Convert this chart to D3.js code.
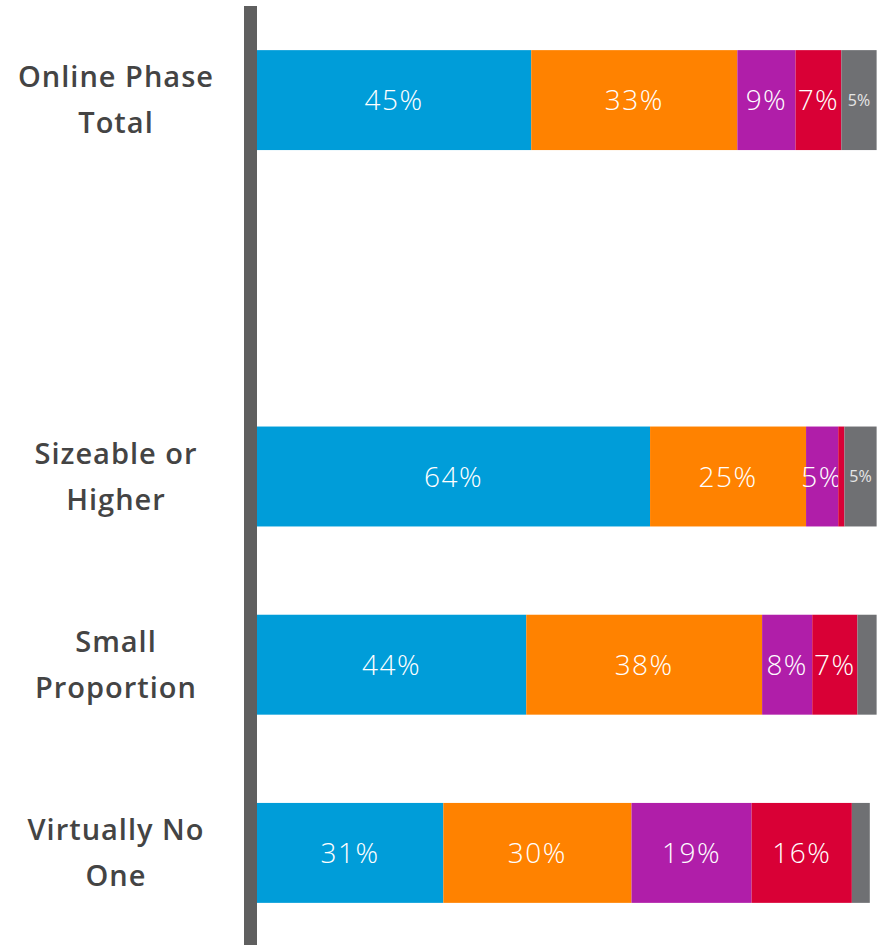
<!DOCTYPE html>
<html>
<head>
<meta charset="utf-8">
<script src="https://cdn.jsdelivr.net/npm/d3@7"></script>
<style>
  html, body { margin: 0; padding: 0; background: #fff; }
  svg { display: block; }
</style>
</head>
<body>
<svg id="chart" width="883" height="945"></svg>
<script>
// Categories (a blank spacer slot sits after the first row)
const categories = ["Online Phase Total", "__gap__", "Sizeable or Higher", "Small Proportion", "Virtually No One"];
const categoryLines = {
  "Online Phase Total": ["Online Phase", "Total"],
  "Sizeable or Higher": ["Sizeable or", "Higher"],
  "Small Proportion": ["Small", "Proportion"],
  "Virtually No One": ["Virtually No", "One"]
};
const rows = ["Online Phase Total", "Sizeable or Higher", "Small Proportion", "Virtually No One"];
const seriesKeys = ["s1", "s2", "s3", "s4", "s5"];
const seriesColors = ["#009DD9", "#FF8200", "#B01EA9", "#D90036", "#6F7073"];

// Segment widths (percent)
const s1 = [44.3, 63.5, 43.5, 30.1];
const s2 = [33.3, 25.2, 38.1, 30.4];
const s3 = [9.4, 5.2, 8.1, 19.4];
const s4 = [7.4, 1.0, 7.3, 16.2];
const s5 = [5.7, 5.2, 3.1, 2.9];

// Printed labels
const l1 = ["45%", "64%", "44%", "31%"];
const l2 = ["33%", "25%", "38%", "30%"];
const l3 = ["9%", "5%", "8%", "19%"];
const l4 = ["7%", "", "7%", "16%"];
const l5 = ["5%", "5%", "", ""];

const valueArrays = [s1, s2, s3, s4, s5];
const labelArrays = [l1, l2, l3, l4, l5];

const data = rows.map((r, i) => {
  const o = { cat: r };
  seriesKeys.forEach((k, j) => { o[k] = valueArrays[j][i]; o[k + "_lab"] = labelArrays[j][i]; });
  return o;
});

const svg = d3.select("#chart");
const x = d3.scaleLinear().domain([0, 100]).range([257, 876]);
const y = d3.scaleBand().domain(categories).range([6, 947]).paddingInner(0.469).paddingOuter(0.2345);

const stack = d3.stack().keys(seriesKeys);
const stacked = stack(data);

const g = svg.append("g");
stacked.forEach((layer, j) => {
  const lg = g.append("g").attr("fill", seriesColors[j]);
  lg.selectAll("rect").data(layer).join("rect")
    .attr("x", d => x(d[0]))
    .attr("y", d => y(d.data.cat))
    .attr("width", d => x(d[1]) - x(d[0]))
    .attr("height", y.bandwidth());
  lg.selectAll("text").data(layer).join("text")
    .attr("x", d => (x(d[0]) + x(d[1])) / 2)
    .attr("y", d => y(d.data.cat) + y.bandwidth() / 2)
    .attr("dy", "0.36em")
    .attr("text-anchor", "middle")
    .attr("fill", j === 4 ? "#e6e6e6" : "#ffffff")
    .attr("font-family", "'Open Sans', sans-serif")
    .attr("font-weight", j === 4 ? 400 : 300)
    .attr("font-size", j === 4 ? 16 : 28)
    .attr("letter-spacing", j === 4 ? 0 : 1.5)
    .text(d => d.data[seriesKeys[j] + "_lab"]);
});

// Category axis line
svg.append("line")
  .attr("x1", 250.5).attr("x2", 250.5)
  .attr("y1", 6).attr("y2", 945)
  .attr("stroke", "#5f5f5f").attr("stroke-width", 13);

// Category labels
const labG = svg.append("g");
rows.forEach(r => {
  const cy = y(r) + y.bandwidth() / 2;
  const t = labG.append("text")
    .attr("x", 116)
    .attr("y", cy)
    .attr("text-anchor", "middle")
    .attr("fill", "#444444")
    .attr("font-family", "'Open Sans', sans-serif")
    .attr("font-weight", 600)
    .attr("font-size", 29)
    .attr("letter-spacing", 1);
  const lines = categoryLines[r];
  lines.forEach((ln, i) => {
    t.append("tspan").attr("x", 116).attr("y", cy + (i - 0.5) * 46).attr("dy", "0.35em").text(ln);
  });
});
</script>
</body>
</html>
